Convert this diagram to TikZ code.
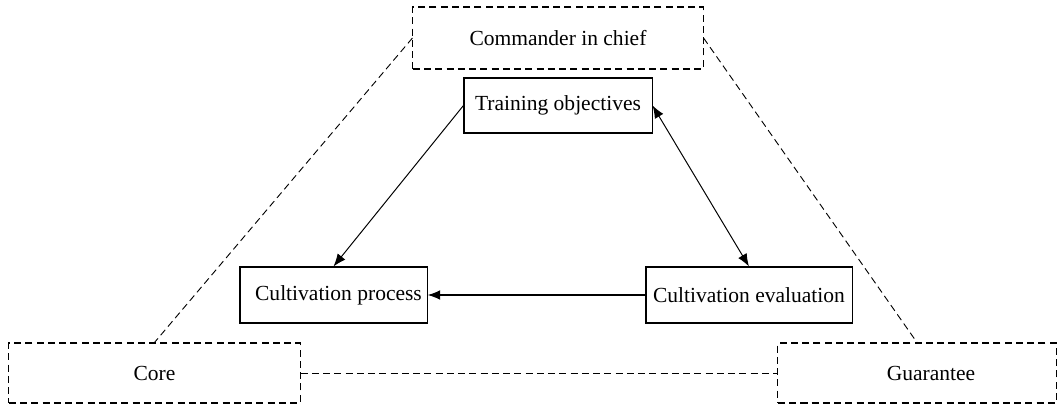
\documentclass[tikz,border=0pt]{standalone}
\usepackage{fontspec}
\setmainfont{Liberation Serif}
\usepackage{tikz}
\usetikzlibrary{arrows.meta}
\tikzset{
	boxnode/.style = {align=center, inner sep=0pt, text centered,
		font=\fontsize{15.3}{18}\selectfont},
	solidbox/.style = {boxnode, rectangle, draw=black, line width=0.75pt,
		minimum height=1.4cm},
	dashbox/.style = {boxnode, rectangle, draw=black, line width=0.75pt,
		dash pattern=on 5pt off 3pt, minimum height=1.5cm},
	dashlink/.style = {-, line width=0.65pt, dash pattern=on 5pt off 3pt}
}
\begin{document}
\begin{tikzpicture}[x=0.025cm,y=-0.025cm,->,>={Latex[length=9pt,width=7pt]},line width=0.7pt]
\useasboundingbox (0,0) rectangle (1061,408);
\node [dashbox, minimum width=7.25cm, minimum height=1.55cm] (cmd) at (558,38) {Commander in chief};
\node [solidbox, minimum width=4.7cm, minimum height=1.375cm] (obj) at (558,105.5) {Training objectives};
\node [solidbox, minimum width=4.675cm] (proc) at (333.5,295) {\hspace*{0.25cm}Cultivation process};
\node [solidbox, minimum width=5.15cm] (eval) at (749,295) {Cultivation evaluation};
\node [dashbox, minimum width=7.275cm] (core) at (154.5,373) {Core};
\node [dashbox, minimum width=6.95cm] (guar) at (917,373) {\hspace*{0.7cm}Guarantee};
% solid arrows
\draw (obj.west) -- (proc.north);
\draw [<->] (obj.east) -- (eval.north);
\draw [line width=1.1pt] (eval.west) -- (proc.east);
% dashed links
\draw [dashlink] (cmd.west) -- (core.north);
\draw [dashlink] (cmd.east) -- (guar.north);
\draw [dashlink] (core.east) -- (guar.west);
\end{tikzpicture}
\end{document}
